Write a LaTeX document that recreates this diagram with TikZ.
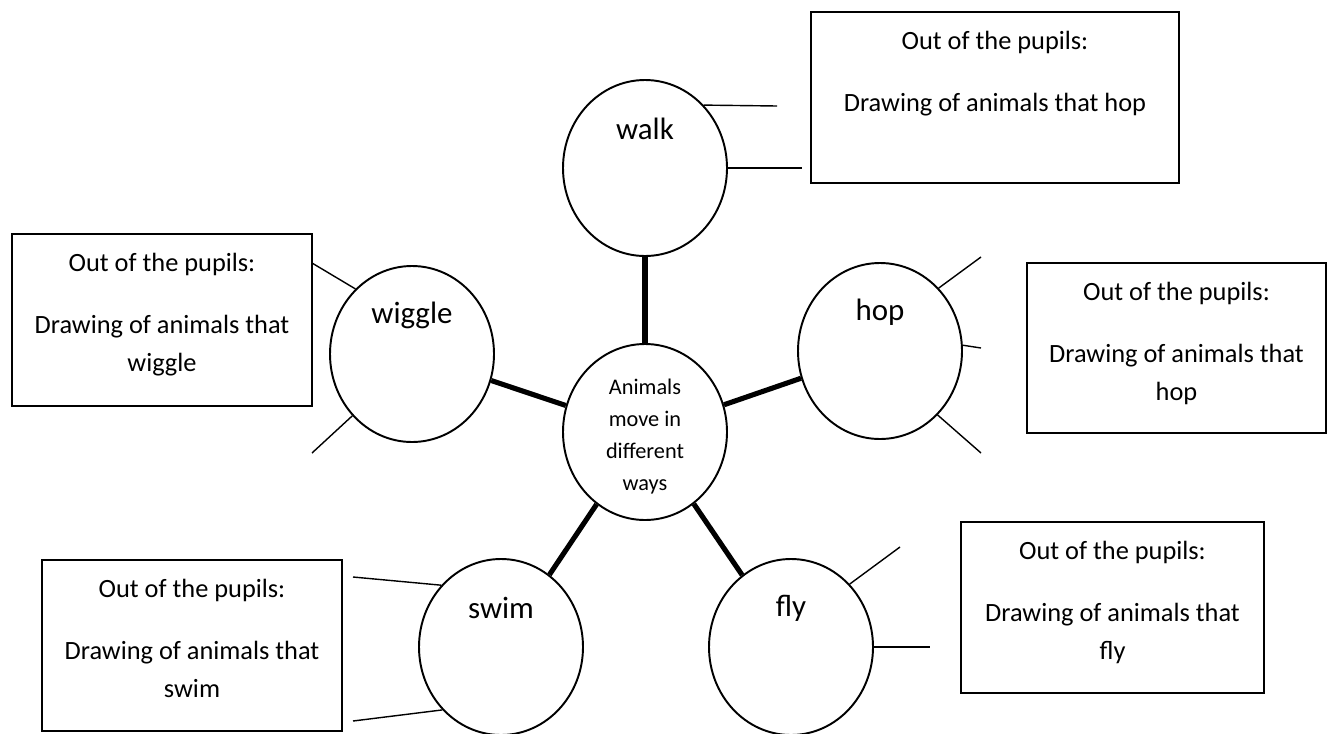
\documentclass[tikz,border=0pt]{standalone}
\usepackage{fontspec}
\setmainfont{Carlito}
\usetikzlibrary{shapes.geometric}
\tikzstyle{bubble} = [ellipse, draw=black, line width=1.1pt, minimum width=3.28cm, minimum height=3.52cm, inner sep=0pt]
\tikzstyle{word} = [anchor=base, yshift=0.78cm, inner sep=0pt, font=\fontsize{17.6}{21}\selectfont]
\tikzstyle{pupilbox} = [rectangle, draw=black, line width=1.1pt, minimum width=6cm, minimum height=3.42cm]
\tikzstyle{boxtext} = [anchor=north, yshift=-0.39cm, align=center, inner sep=0pt, font=\fontsize{15}{21.6}\selectfont]
\tikzstyle{leg} = [line width=2.9pt]
\tikzstyle{spoke} = [line width=0.8pt]

\begin{document}
\begin{tikzpicture}
    \useasboundingbox (0,0) rectangle (26.70,-14.66);
    \node (middle) [bubble, label={[anchor=center, yshift=-0.1cm, align=center, font=\fontsize{12.7}{18.2}\selectfont]center:{Animals\\move in\\different\\ways}}] at (12.90,-8.64) {};
    \node (walk) [bubble, label={[word]center:walk}] at (12.90,-3.36) {};
    \node (wiggle) [bubble, label={[word]center:wiggle}] at (8.24,-7.08) {};
    \node (hop) [bubble, label={[word]center:hop}] at (17.60,-7.02) {};
    \node (swim) [bubble, label={[word]center:swim}] at (10.02,-12.94) {};
    \node (fly) [bubble, label={[word]center:fly}] at (15.82,-12.94) {};

    \node (walkbox) [pupilbox, minimum width=7.36cm, label={[boxtext]north:{Out of the pupils:\\[14pt]Drawing of animals that hop}}] at (19.90,-1.95) {};
    \node (wigglebox) [pupilbox, minimum height=3.44cm, label={[boxtext]north:{Out of the pupils:\\[14pt]Drawing of animals that\\wiggle}}] at (3.24,-6.40) {};
    \node (hopbox) [pupilbox, minimum width=5.98cm, minimum height=3.40cm, label={[boxtext]north:{Out of the pupils:\\[14pt]Drawing of animals that\\hop}}] at (23.53,-6.96) {};
    \node (swimbox) [pupilbox, label={[boxtext]north:{Out of the pupils:\\[14pt]Drawing of animals that\\swim}}] at (3.84,-12.91) {};
    \node (flybox) [pupilbox, minimum width=6.06cm, label={[boxtext]north:{Out of the pupils:\\[14pt]Drawing of animals that\\fly}}] at (22.25,-12.15) {};

    \coordinate (walk1) at (15.54,-2.12);
    \coordinate (walk2) at (16.04,-3.36);
    \coordinate (wiggle1) at (6.24,-5.26);
    \coordinate (wiggle2) at (6.24,-9.06);
    \coordinate (hop1) at (19.62,-5.14);
    \coordinate (hop2) at (19.62,-6.96);
    \coordinate (hop3) at (19.62,-9.06);
    \coordinate (swim1) at (7.06,-11.54);
    \coordinate (swim2) at (7.06,-14.42);
    \coordinate (fly1) at (18.00,-10.94);
    \coordinate (fly2) at (18.60,-12.94);

    \draw[leg] (middle) -- (walk);
    \draw[leg] (middle) -- (wiggle);
    \draw[leg] (middle) -- (hop);
    \draw[leg] (middle) -- (swim);
    \draw[leg] (middle) -- (fly);

    \draw[spoke] (walk.47) -- (walk1);
    \draw[spoke] (walk.0) -- (walk2);
    \draw[spoke] (wiggle.131) -- (wiggle1);
    \draw[spoke] (wiggle.226) -- (wiggle2);
    \draw[spoke] (hop.47) -- (hop1);
    \draw[spoke] (hop.4) -- (hop2);
    \draw[spoke] (hop.-48) -- (hop3);
    \draw[spoke] (swim.134) -- (swim1);
    \draw[spoke] (swim.227) -- (swim2);
    \draw[spoke] (fly.47) -- (fly1);
    \draw[spoke] (fly.0) -- (fly2);
\end{tikzpicture}
\end{document}
